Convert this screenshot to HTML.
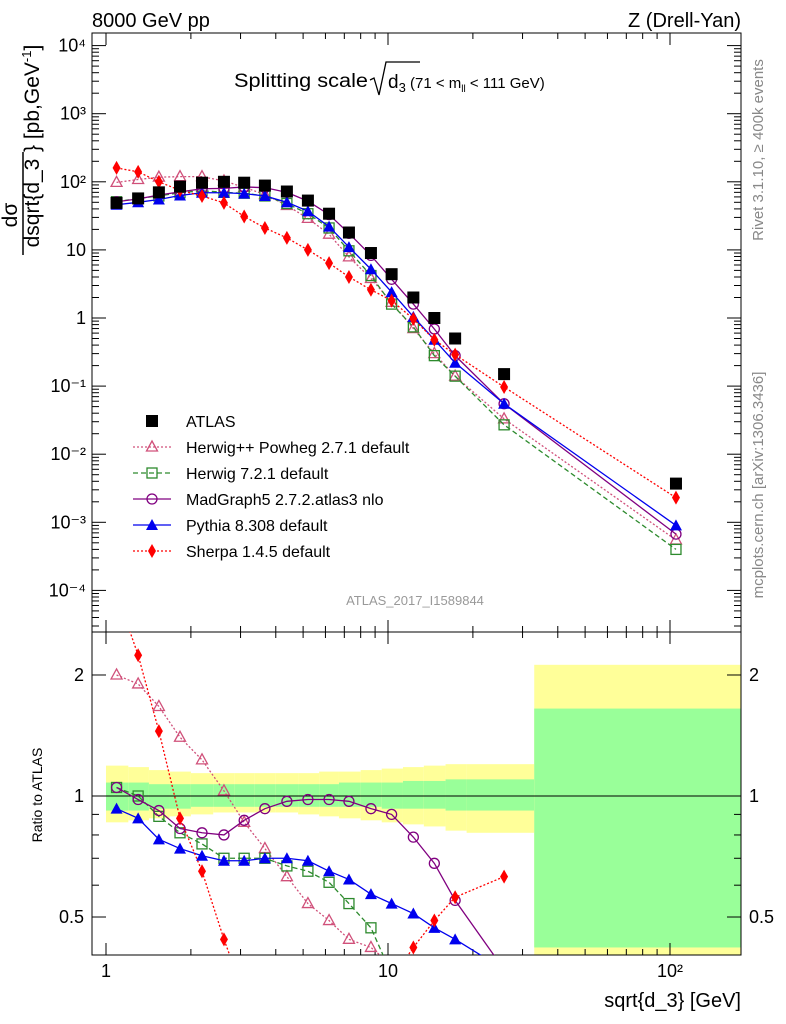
<!DOCTYPE html>
<html><head><meta charset="utf-8">
<style>
body{margin:0;background:#fff;overflow:hidden;}
svg{display:block;font-family:"Liberation Sans",sans-serif;}
</style></head>
<body>
<svg id="c" width="786" height="1024" viewBox="0 0 786 1024" xmlns="http://www.w3.org/2000/svg">
<text x="92" y="27" font-size="20">8000 GeV pp</text>
<text x="741" y="27" font-size="20" text-anchor="end">Z (Drell-Yan)</text>
<text transform="translate(763,150) rotate(-90)" font-size="15" fill="#888" text-anchor="middle">Rivet 3.1.10, ≥ 400k events</text>
<text transform="translate(763,485) rotate(-90)" font-size="15" fill="#888" text-anchor="middle">mcplots.cern.ch [arXiv:1306.3436]</text>
<g>
<text x="234" y="87" font-size="19" textLength="134" lengthAdjust="spacingAndGlyphs">Splitting scale</text>
<path d="M370,80 L374,78 L379,95 L386,62 L420,62" fill="none" stroke="#000" stroke-width="1.3"/>
<text x="388" y="88" font-size="19">d<tspan font-size="13" dy="4">3</tspan><tspan font-size="15" dy="-4"> (71 &lt; m</tspan><tspan font-size="10" dy="4">ll</tspan><tspan font-size="15" dy="-4"> &lt; 111 GeV)</tspan></text>
</g>
<text x="415" y="605" font-size="13" fill="#999" text-anchor="middle">ATLAS_2017_I1589844</text>
<g id="ratioBands"></g>
<g id="axes"></g>
<g id="series"></g>
<g id="legend"></g>
<g>
<text transform="translate(17,215) rotate(-90)" font-size="21" text-anchor="middle">dσ</text>
<line x1="23" x2="23" y1="152" y2="255" stroke="#000" stroke-width="1.5"/>
<text transform="translate(39,203) rotate(-90)" font-size="21" text-anchor="middle">dsqrt{d_3</text>
<text transform="translate(39,152) rotate(-90)" font-size="21">} [pb,GeV<tspan font-size="13" dy="-8">-1</tspan><tspan dy="8">]</tspan></text>
</g>
<text transform="translate(42,795) rotate(-90)" font-size="14" text-anchor="middle">Ratio to ATLAS</text>
<text x="741" y="1007" font-size="20" text-anchor="end">sqrt{d_3} [GeV]</text>
</svg>
<script>
const xVals=[1.09,1.30,1.54,1.83,2.19,2.62,3.09,3.66,4.38,5.2,6.18,7.27,8.7,10.3,12.3,14.6,17.3,25.8,105];
const binEdges=[1,1.2,1.42,1.68,2.0,2.4,2.85,3.37,4.0,4.8,5.7,6.7,8.0,9.5,11.3,13.4,16,19,33,180];
const atlas=[49,57,70,85,97,100,97,88,72,53,34,18,9,4.4,2.0,1.0,0.5,0.15,0.0037];
const hwppMain=[98,108,117,119,119,103,83,65,45,29,17,7.9,3.8,1.7,0.7,0.3,0.14,0.033,5.5e-4];
const hwppRatio=[2.0,1.9,1.67,1.40,1.23,1.03,0.86,0.74,0.63,0.54,0.49,0.44,0.42,0.38,0.35,0.30,0.28,0.22,null];
const hw7Main=[51,57,62,69,74,70,68,62,48,34,21,9.7,4.2,1.6,0.74,0.28,0.14,0.027,4e-4];
const hw7Ratio=[1.05,1.0,0.89,0.81,0.76,0.70,0.70,0.70,0.67,0.65,0.61,0.54,0.47,0.36,0.37,0.28,0.28,0.18,null];
const mgMain=[51,56,64,71,79,80,84,82,70,52,33,17.5,8.3,3.7,1.6,0.69,0.28,0.055,6.7e-4];
const mgRatio=[1.05,0.98,0.92,0.83,0.81,0.80,0.87,0.93,0.97,0.98,0.98,0.97,0.93,0.90,0.79,0.68,0.55,0.37,null];
const pyMain=[46,50,55,63,69,69,67,62,50,37,22,11,5.2,2.4,1.04,0.48,0.22,0.055,9e-4];
const pyRatio=[0.93,0.88,0.78,0.74,0.71,0.69,0.69,0.70,0.70,0.69,0.65,0.62,0.57,0.54,0.51,0.47,0.44,0.37,null];
const shMain=[160,140,100,75,62,49,31,21,15,10,6.4,4,2.6,1.8,0.97,0.48,0.29,0.097,2.3e-3];
const shRatio=[3.2,2.24,1.45,0.88,0.65,0.44,0.32,0.24,0.21,0.19,0.19,0.22,0.29,0.35,0.42,0.49,0.56,0.63,null];
const greenUp=[1.08,1.08,1.07,1.07,1.07,1.07,1.07,1.07,1.07,1.07,1.07,1.08,1.08,1.08,1.09,1.09,1.10,1.10,1.65];
const greenDn=[0.92,0.92,0.93,0.93,0.94,0.94,0.94,0.94,0.94,0.94,0.94,0.94,0.94,0.93,0.93,0.93,0.92,0.92,0.42];
const yellowUp=[1.19,1.18,1.16,1.15,1.14,1.14,1.14,1.14,1.14,1.14,1.15,1.15,1.16,1.17,1.18,1.19,1.20,1.20,2.12];
const yellowDn=[0.86,0.87,0.88,0.89,0.90,0.91,0.91,0.91,0.91,0.90,0.89,0.88,0.87,0.86,0.85,0.84,0.82,0.81,0.38];
const yTickLabels=['10⁻⁴','10⁻³','10⁻²','10⁻¹','1','10','10²','10³','10⁴'];

const NS='http://www.w3.org/2000/svg';
const L=92,R=741,T1=33,B1=632,T2=632,B2=955;
const X=v=>106+282*Math.log10(v);
const Y=v=>318-68.1*Math.log10(v);
const YR=r=>796-402*Math.log10(r);
function mk(tag,attrs,parent){const e=document.createElementNS(NS,tag);for(const k in attrs)e.setAttribute(k,attrs[k]);parent.appendChild(e);return e;}
const axes=document.getElementById('axes'),ser=document.getElementById('series'),bands=document.getElementById('ratioBands'),leg=document.getElementById('legend');
const defsEl=mk('defs',{},document.getElementById('c'));
const cp=mk('clipPath',{id:'rc'},defsEl);mk('rect',{x:L,y:T2,width:R-L,height:B2-T2},cp);
bands.setAttribute('clip-path','url(#rc)');

for(let i=0;i<xVals.length;i++){
  const x0=Math.max(L,X(binEdges[i])),x1=Math.min(R,X(binEdges[i+1]));
  const yb=mk('rect',{x:x0,y:YR(yellowUp[i]),width:x1-x0,height:YR(yellowDn[i])-YR(yellowUp[i]),fill:'#ffff99'},bands);
  
  
  const gb=mk('rect',{x:x0,y:YR(greenUp[i]),width:x1-x0,height:YR(greenDn[i])-YR(greenUp[i]),fill:'#99ff99'},bands);
  
  
}
const f1=mk('rect',{x:L,y:T1,width:R-L,height:B1-T1,fill:'none',stroke:'#000','stroke-width':1},axes);


const f2=mk('rect',{x:L,y:T2,width:R-L,height:B2-T2,fill:'none',stroke:'#000','stroke-width':1},axes);


const one=mk('line',{x1:L,x2:R,y1:YR(1),y2:YR(1),stroke:'#000','stroke-width':1},axes);


for(let d=0;d<3;d++)for(let m=1;m<10;m++){
  const v=m*Math.pow(10,d),x=X(v);if(x<L||x>R)continue;
  const len=m===1?12:6;
  for(const [t,b] of [[T1,B1],[T2,B2]]){
    mk('line',{x1:x,x2:x,y1:b,y2:b-len,stroke:'#000'},axes);
    mk('line',{x1:x,x2:x,y1:t,y2:t+len,stroke:'#000'},axes);
  }
  if(m===1){const t=mk('text',{x:x,y:977,'font-size':18,'text-anchor':'middle'},axes);t.textContent=['1','10','10²'][d];
    
    }
}
for(let e=-5;e<=4;e++)for(let m=1;m<10;m++){
  const y=Y(m*Math.pow(10,e));if(y<T1||y>B1)continue;
  const len=m===1?14:7;
  mk('line',{x1:L,x2:L+len,y1:y,y2:y,stroke:'#000'},axes);
  mk('line',{x1:R,x2:R-len,y1:y,y2:y,stroke:'#000'},axes);
  if(m===1){const t=mk('text',{x:L-6,y:y+6,'font-size':18,'text-anchor':'end'},axes);t.textContent=yTickLabels[e+4];
    
    }
}
for(const v of [0.4,0.5,0.6,0.7,0.8,0.9,1,2]){
  const y=YR(v);if(y<T2||y>B2)continue;const big=[0.5,1,2].includes(v);const len=big?14:7;
  mk('line',{x1:L,x2:L+len,y1:y,y2:y,stroke:'#000'},axes);
  mk('line',{x1:R,x2:R-len,y1:y,y2:y,stroke:'#000'},axes);
  if(big){for(const [xx,a] of [[L-8,'end'],[R+8,'start']]){const t=mk('text',{x:xx,y:y+6,'font-size':18,'text-anchor':a},axes);t.textContent=String(v);
    
    }}
}
function marker(g,type,x,y,c){
  if(type==='sq')return mk('rect',{x:x-6,y:y-6,width:12,height:12,fill:c},g);
  if(type==='osq')return mk('rect',{x:x-5,y:y-5,width:10,height:10,fill:'none',stroke:c,'stroke-width':1.3},g);
  if(type==='otri')return mk('path',{d:`M${x},${y-6}L${x+5.5},${y+4}L${x-5.5},${y+4}Z`,fill:'none',stroke:c,'stroke-width':1.3},g);
  if(type==='tri')return mk('path',{d:`M${x},${y-6}L${x+6},${y+5}L${x-6},${y+5}Z`,fill:c},g);
  if(type==='oc')return mk('circle',{cx:x,cy:y,r:5,fill:'none',stroke:c,'stroke-width':1.3},g);
  if(type==='dia')return mk('path',{d:`M${x},${y-7}L${x+4},${y}L${x},${y+7}L${x-4},${y}Z`,fill:c},g);
}
const defs=[
 ['herwigpp',hwppMain,hwppRatio,'#d0507a','otri','2,2'],
 ['herwig7',hw7Main,hw7Ratio,'#2d8a2d','osq','5,3'],
 ['madgraph',mgMain,mgRatio,'#800080','oc',''],
 ['pythia',pyMain,pyRatio,'#0000ee','tri',''],
 ['sherpa',shMain,shRatio,'#ff0000','dia','2,2']];
for(const [nm,main,rat,c,mt,dash] of defs){
  const g=mk('g',{},ser);
  
  
  mk('polyline',{points:xVals.map((x,i)=>X(x)+','+Y(main[i])).join(' '),fill:'none',stroke:c,'stroke-width':1.3,'stroke-dasharray':dash},g);
  xVals.forEach((x,i)=>{const m=marker(g,mt,X(x),Y(main[i]),c);
    
    });
  const gr=mk('g',{'clip-path':'url(#rc)'},g);
  const pts=[];xVals.forEach((x,i)=>{if(rat[i]!=null)pts.push(X(x)+','+YR(rat[i]));});
  mk('polyline',{points:pts.join(' '),fill:'none',stroke:c,'stroke-width':1.3,'stroke-dasharray':dash},gr);
  xVals.forEach((x,i)=>{if(rat[i]==null)return;const y=YR(rat[i]);if(y<T2-8||y>B2+8)return;const m=marker(gr,mt,X(x),y,c);
    
    });
}
const ga=mk('g',{},ser);


xVals.forEach((x,i)=>{const m=marker(ga,'sq',X(x),Y(atlas[i]),'#000');
  
  });
const labels=[['ATLAS','#000','sq',''],['Herwig++ Powheg 2.7.1 default','#d0507a','otri','2,2'],['Herwig 7.2.1 default','#2d8a2d','osq','5,3'],['MadGraph5 2.7.2.atlas3 nlo','#800080','oc',''],['Pythia 8.308 default','#0000ee','tri',''],['Sherpa 1.4.5 default','#ff0000','dia','2,2']];
labels.forEach(([t,c,mt,dash],i)=>{
  const y=421+i*26;const g=mk('g',{},leg);
  
  
  if(i>0)mk('line',{x1:133,x2:171,y1:y,y2:y,stroke:c,'stroke-width':1.3,'stroke-dasharray':dash},g);
  marker(g,mt,152,y,c);
  const tx=mk('text',{x:186,y:y+6,'font-size':16},g);tx.textContent=t;
});
</script>
</body></html>
